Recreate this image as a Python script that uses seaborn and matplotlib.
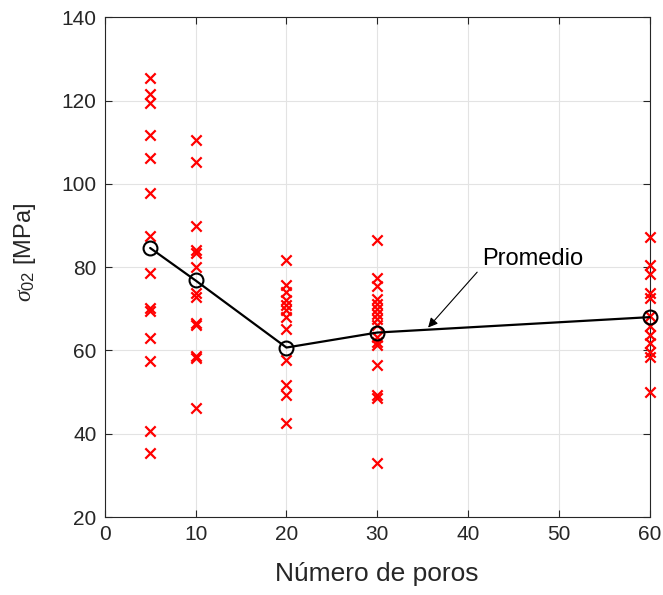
import matplotlib
matplotlib.use("Agg")
import matplotlib.pyplot as plt
import seaborn as sns
import pandas as pd

# ---- data ----
poros = [5, 10, 20, 30, 60]
vals_5 = [125.4, 121.5, 119.3, 111.8, 106.1, 97.7, 87.6, 78.5, 70.1, 69.4, 63.0, 57.4, 40.7, 35.4]
vals_10 = [110.6, 105.2, 90.0, 84.1, 83.3, 80.0, 73.7, 72.9, 66.5, 66.0, 58.6, 58.2, 46.1]
vals_20 = [81.6, 75.6, 74.0, 72.0, 70.8, 69.6, 68.0, 65.2, 57.6, 51.7, 49.3, 42.5]
vals_30 = [86.4, 77.5, 75.5, 72.4, 71.2, 70.0, 68.8, 67.6, 66.2, 63.2, 62.0, 61.2, 56.5, 49.3, 48.5, 32.9]
vals_60 = [87.2, 80.4, 78.4, 73.8, 72.6, 68.2, 65.8, 63.8, 61.8, 59.6, 58.4, 50.0]
promedio = [84.6, 76.8, 60.7, 64.3, 68.0]

xticks = [0, 10, 20, 30, 40, 50, 60]
yticks = [20, 40, 60, 80, 100, 120, 140]

rows = []
for p, vs in zip(poros, [vals_5, vals_10, vals_20, vals_30, vals_60]):
    for v in vs:
        rows.append({"poros": p, "sigma": v})
df = pd.DataFrame(rows)
df_mean = pd.DataFrame({"poros": poros, "sigma": promedio})

sns.set_theme(style="whitegrid")
plt.rcParams['font.family'] = ['Liberation Sans', 'DejaVu Sans']
plt.rcParams['mathtext.fontset'] = 'custom'
plt.rcParams['mathtext.it'] = 'Liberation Serif:italic'
plt.rcParams['mathtext.rm'] = 'Liberation Sans'

fig = plt.figure(figsize=(6.63, 5.95), dpi=100)
ax = fig.add_axes([0.158, 0.131, 0.822, 0.840])

sns.scatterplot(data=df, x="poros", y="sigma", marker="x", color="red",
                s=55, linewidth=1.6, ax=ax, zorder=3, legend=False)
sns.lineplot(data=df_mean, x="poros", y="sigma", color="black", linewidth=1.6,
             marker="o", markersize=10, markerfacecolor="none",
             markeredgecolor="black", markeredgewidth=1.5, ax=ax, zorder=4,
             legend=False)
for c in ax.collections:
    c.set_clip_on(False)
for l in ax.lines:
    l.set_clip_on(False)

ax.set_xlim(0, 60)
ax.set_ylim(20, 140)
ax.set_xticks(xticks)
ax.set_yticks(yticks)
ax.grid(True, color="#e3e3e3", linewidth=0.8)
for s in ax.spines.values():
    s.set_visible(True)
    s.set_color("#262626")
    s.set_linewidth(0.8)
ax.tick_params(direction="in", length=5, width=0.8, colors="#262626",
               labelsize=15, top=True, right=True, bottom=True, left=True,
               labelcolor="#262626", pad=6)
ax.set_xlabel("Número de poros", fontsize=19, color="#262626")
ax.set_ylabel(r"$\sigma_{02}$ [MPa]", fontsize=17, color="#262626")
ax.xaxis.set_label_coords(0.5, -0.09)
ax.yaxis.set_label_coords(-0.123, 0.53)

ax.text(41.6, 82.0, "Promedio", fontsize=17, color="black", va="center", ha="left")
ax.annotate("", xy=(35.6, 65.5), xytext=(41.0, 78.8),
            arrowprops=dict(arrowstyle="-|>", color="black", lw=0.8,
                            shrinkA=0, shrinkB=0, mutation_scale=14))

fig.savefig("out.png", dpi=100)
